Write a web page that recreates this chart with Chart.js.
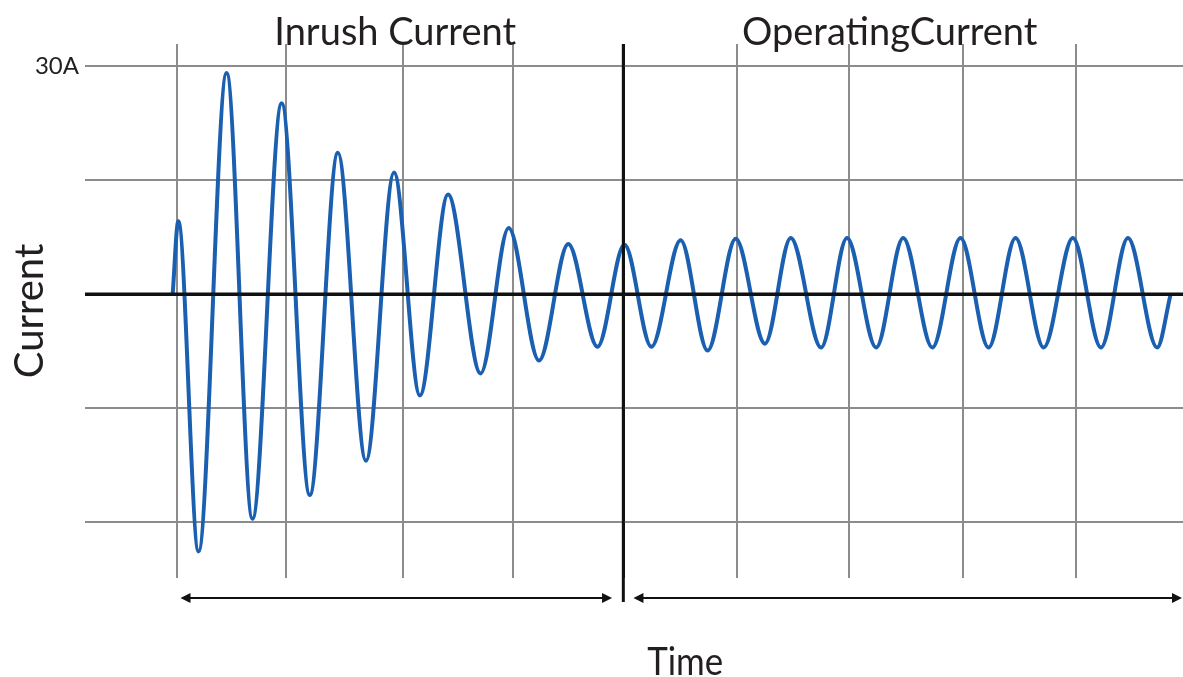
<!DOCTYPE html>
<html>
<head>
<meta charset="utf-8">
<script src="https://cdn.jsdelivr.net/npm/chart.js@4.4.0/dist/chart.umd.min.js"></script>
<style>
  html, body { margin: 0; padding: 0; background: #fff; }
  #box { width: 1183px; height: 677px; position: relative; }
</style>
</head>
<body>
<div id="box"><canvas id="inrush"></canvas></div>
<script>

// Data {

    // waveform extremes (time in grid units x10, current in A)
    const times = [
        -0.4, 0.1, 1.9, 4.4, 6.7, 9.3, 11.8, 14.3, 16.8, 19.3, 21.6,
        24.1, 27.0, 29.5, 32.2, 34.8, 37.4, 39.8, 42.2, 44.8, 47.2,
        49.7, 52.3, 54.6, 57.3, 59.6, 62.2, 64.6, 67.2, 69.7, 72.2,
        74.6, 77.1, 79.7, 82.2, 84.6, 87.2, 88.4
    ];

    const amps = [
        0, 9.6, -33.8, 29.1, -29.5, 25.1, -26.4, 18.6, -21.9, 16.0, -13.3,
        13.1, -10.4, 8.7, -8.7, 6.6, -6.9, 6.5, -6.9, 7.1, -7.4,
        7.3, -6.5, 7.4, -7.0, 7.4, -7.0, 7.4, -7.0, 7.4, -7.0,
        7.4, -7.0, 7.4, -7.0, 7.4, -7.0, 0
    ];

    // grid positions as drawn in the picture
    const xTicks = [0, 9.7, 20.1, 29.9, 39.7, 49.8, 59.8, 69.9, 80];
    const yTicks = [-30, -15, 0, 15, 30];

    const sections = ['Inrush Current', 'OperatingCurrent'];
    const sectionAt = [19.4, 63.4];
    const spans = [[0.3, 38.7], [40.6, 89.5]];
    const divideAt = 39.7;

// };

// Drawing {

    const ink = '#231f20';
    const font = 'Lato, "Open Sans", sans-serif';

    const marks = {
        id: 'marks',
        afterDatasetsDraw(chart) {
            const { ctx, chartArea: a, scales: { x, y } } = chart;
            ctx.save();

            // zero line and divider on top of the wave
            ctx.strokeStyle = '#111';
            ctx.lineWidth = 3.5;
            const y0 = y.getPixelForValue(0);
            ctx.beginPath();
            ctx.moveTo(a.left, y0);
            ctx.lineTo(a.right, y0);
            ctx.stroke();

            ctx.lineWidth = 3;
            const xd = x.getPixelForValue(divideAt);
            ctx.beginPath();
            ctx.moveTo(xd, a.top);
            ctx.lineTo(xd, a.bottom + 24);
            ctx.stroke();

            // span arrows
            const ay = a.bottom + 20;
            ctx.lineWidth = 2;
            ctx.fillStyle = '#111';
            spans.forEach(([s, e]) => {
                const x1 = x.getPixelForValue(s);
                const x2 = Math.min(x.getPixelForValue(e), chart.width - 1);
                ctx.beginPath();
                ctx.moveTo(x1 + 6, ay);
                ctx.lineTo(x2 - 6, ay);
                ctx.stroke();
                ctx.beginPath();
                ctx.moveTo(x1, ay); ctx.lineTo(x1 + 10, ay - 5); ctx.lineTo(x1 + 10, ay + 5);
                ctx.closePath();
                ctx.fill();
                ctx.beginPath();
                ctx.moveTo(x2, ay); ctx.lineTo(x2 - 10, ay - 5); ctx.lineTo(x2 - 10, ay + 5);
                ctx.closePath();
                ctx.fill();
            });

            // section names and time label
            ctx.fillStyle = ink;
            ctx.textAlign = 'center';
            ctx.textBaseline = 'alphabetic';
            ctx.font = '38px ' + font;
            sections.forEach((t, i) => {
                ctx.fillText(t, x.getPixelForValue(sectionAt[i]), a.top + 1);
            });
            ctx.font = '39px ' + font;
            ctx.fillText('Time', x.getPixelForValue(45.2), 675, 76);

            ctx.restore();
        }
    };

    const wave = {
        datasets: [
            {
                label: 'Current',
                data: times.map((t, i) => ({ x: t, y: amps[i] })),
                borderColor: '#1b5fb0',
                borderWidth: 4,
                pointRadius: 0,
                cubicInterpolationMode: 'monotone',
                fill: false,
            }
        ]
    };

    const chart = new Chart(document.getElementById('inrush').getContext('2d'), {
        type: 'line',
        data: wave,
        plugins: [marks],
        options: {
            responsive: true,
            maintainAspectRatio: false,
            animation: false,
            layout: { padding: { top: 44, bottom: 99, left: 0, right: 0 } },
            plugins: {
                legend: { display: false },
                tooltip: { enabled: false },
            },
            scales: {
                x: {
                    type: 'linear',
                    min: -8.2,
                    max: 89.5,
                    afterBuildTicks: s => { s.ticks = xTicks.map(v => ({ value: v })); },
                    afterFit: s => { s.height = 0; },
                    ticks: { display: false },
                    border: { display: false },
                    grid: {
                        drawTicks: false,
                        color: c => c.tick && c.tick.value === divideAt ? '#111' : '#8c8c8c',
                        lineWidth: c => c.tick && c.tick.value === divideAt ? 3 : 2,
                    },
                },
                y: {
                    min: -37.3,
                    max: 32.9,
                    afterBuildTicks: s => { s.ticks = yTicks.map(v => ({ value: v })); },
                    afterFit: s => { s.width = 85; },
                    border: { display: false },
                    grid: {
                        drawTicks: false,
                        color: c => c.tick && c.tick.value === 0 ? '#111' : '#8c8c8c',
                        lineWidth: c => c.tick && c.tick.value === 0 ? 3 : 2,
                    },
                    ticks: {
                        padding: 6,
                        color: ink,
                        font: { family: font, size: 24 },
                        callback: v => v === 30 ? '30A' : '',
                    },
                    title: {
                        display: true,
                        text: 'Current',
                        color: ink,
                        padding: { top: 6, bottom: 0 },
                        font: { family: font, size: 40 },
                    },
                },
            },
        },
    });

// };

</script>
</body>
</html>
